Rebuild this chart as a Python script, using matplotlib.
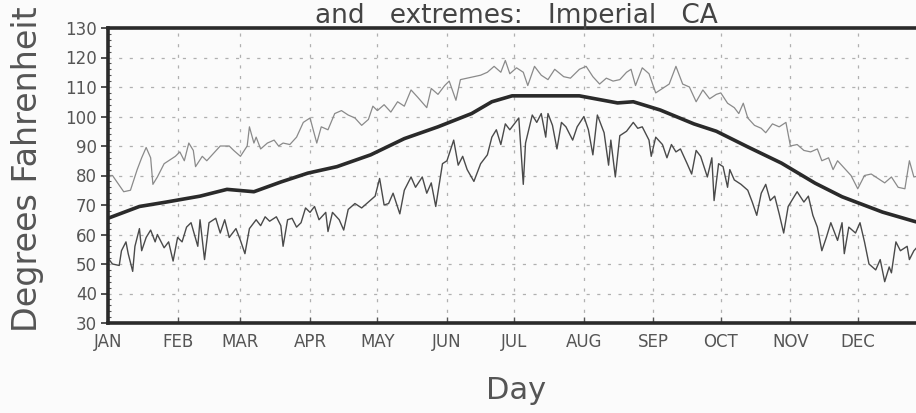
import matplotlib
matplotlib.use("Agg")
from matplotlib import pyplot as plt

# month starts (day of year) and labels
month_days = [1, 32, 60, 91, 121, 152, 182, 213, 244, 274, 305, 335]
month_names = ['JAN', 'FEB', 'MAR', 'APR', 'MAY', 'JUN',
               'JUL', 'AUG', 'SEP', 'OCT', 'NOV', 'DEC']

# record highs
hi_day = [1, 3, 8, 11, 14, 16, 18, 20, 21, 23, 26, 28, 31, 33, 35, 37, 39, 40,
          43, 45, 48, 51, 55, 57, 60, 63, 64, 66, 67, 69, 72, 75, 77, 79, 82,
          85, 88, 91, 94, 96, 99, 102, 105, 108, 111, 114, 117, 119, 121, 124,
          127, 130, 133, 136, 139, 143, 145, 148, 151, 153, 156, 158, 161, 164,
          167, 170, 173, 176, 178, 180, 183, 186, 188, 191, 194, 197, 200, 204,
          207, 211, 214, 217, 220, 223, 226, 229, 232, 234, 236, 239, 242, 245,
          248, 251, 254, 257, 260, 263, 266, 269, 272, 274, 277, 280, 282, 284,
          286, 289, 292, 294, 297, 300, 303, 305, 308, 311, 314, 317, 319, 322,
          324, 326, 329, 332, 335, 338, 341, 344, 347, 350, 353, 356, 358, 360,
          363, 365]
hi_temp = [80, 80, 74.5, 75, 82, 86, 89.5, 86, 77, 79.5, 84, 85, 86.5, 88, 85,
           91, 88.5, 83, 86.5, 85, 87.5, 90, 90, 88.5, 86.5, 90, 96.5, 91, 93,
           89, 91, 92, 90, 91, 90.5, 93, 98, 99.5, 91, 96.5, 95.5, 101, 102,
           100.5, 99.5, 97, 99, 103.5, 102, 104, 101.5, 105, 103.5, 109, 106.5,
           103, 109.5, 107.5, 110.5, 112, 105.5, 112.5, 113, 113.5, 114, 115,
           117, 115, 119, 114.5, 116.5, 115, 110.5, 117, 114, 112.5, 116,
           113.5, 113, 116, 117, 113.5, 111, 113, 112, 112.5, 115, 116, 110.5,
           116.5, 114.5, 108, 109.5, 111, 117, 111, 110, 105, 109, 106, 107.5,
           108, 104.5, 103, 101, 104.5, 99.5, 97, 96, 94.5, 97.5, 96.5, 98, 90,
           90.5, 88.5, 88, 89, 85, 86, 82, 85, 82.5, 80, 75.5, 80, 80.5, 79,
           77.5, 79.5, 76, 75.5, 85, 79.5, 80, 79]

# record lows
lo_day = [1, 3, 6, 7, 9, 10, 12, 13, 15, 16, 18, 20, 22, 23, 26, 28, 30, 32,
          34, 36, 38, 41, 42, 44, 46, 49, 51, 53, 55, 58, 60, 62, 64, 67, 69,
          71, 73, 76, 78, 79, 81, 83, 85, 87, 89, 91, 93, 95, 98, 99, 101, 104,
          106, 108, 111, 114, 117, 120, 122, 124, 126, 128, 131, 133, 136, 138,
          141, 143, 145, 147, 150, 152, 155, 157, 159, 161, 164, 167, 170, 172,
          174, 176, 178, 180, 182, 184, 186, 187, 190, 192, 194, 196, 197, 199,
          201, 203, 205, 208, 210, 213, 215, 217, 219, 222, 224, 225, 227, 229,
          232, 235, 237, 239, 242, 243, 245, 248, 250, 252, 254, 256, 259, 261,
          263, 265, 268, 270, 271, 273, 275, 277, 278, 280, 283, 286, 288, 290,
          292, 294, 296, 298, 300, 302, 304, 306, 308, 311, 313, 315, 317, 319,
          321, 323, 326, 328, 329, 331, 334, 336, 338, 340, 343, 345, 347, 349,
          350, 352, 354, 357, 358, 360, 363, 365]
lo_temp = [52, 50, 49.5, 54.5, 57.5, 53.5, 47.5, 56, 62, 54.5, 59, 61.5, 57.5,
           60, 55.5, 57.5, 51, 59, 57.5, 62.5, 64, 56, 65, 51.5, 64, 65.5,
           60.5, 65, 59, 62, 58, 53.5, 62, 65, 63, 66, 64.5, 66, 63, 56, 65,
           65.5, 62.5, 64, 69, 67.5, 69.5, 65, 67.5, 61, 67.5, 65, 61.5, 68.5,
           70.5, 69, 71, 73, 79, 70, 70.5, 74, 67, 75, 79.5, 76, 79.5, 74,
           77.5, 69.5, 84, 85, 92, 83.5, 86.5, 82, 78, 84, 87, 93, 95.5, 90.5,
           97.5, 95.5, 97.5, 99.5, 77, 91, 100.5, 98, 101, 93, 101, 97, 89, 98,
           96.5, 92, 96.5, 100, 95.5, 87, 100.5, 94.5, 83.5, 92, 79.5, 93.5,
           95, 98, 96, 96.5, 92, 86.5, 93, 90.5, 86, 90.5, 88, 89, 84, 80.5,
           88.5, 86.5, 79.5, 86, 71.5, 84, 83, 76, 82, 78.5, 77, 75, 71, 66.5,
           74, 77, 71.5, 73, 67, 60.5, 69.5, 72, 74.5, 71, 73, 66.5, 62.5,
           54.5, 59, 64, 58, 64, 53.5, 62.5, 60.5, 64, 57.5, 50, 48, 51.5, 44,
           49, 47, 57.5, 54.5, 56, 51.5, 54.5, 57, 55]

# normal daily temperature (thick curve)
norm_day = [1, 15, 27, 42, 54, 66, 78, 90, 103, 118, 133, 148, 163, 172, 181,
            211, 228, 235, 247, 262, 272, 286, 301, 316, 328, 346, 360, 365]
norm_temp = [65.5, 69.5, 71, 73, 75.3, 74.5, 77.8, 80.8, 83, 87, 92.5, 96.5,
             101, 105, 107, 107, 104.6, 105, 102.2, 97.5, 95, 89.7, 84.2, 77.4,
             72.8, 67.6, 64.5, 63.5]

fig = plt.figure(figsize=(9.16, 4.13), dpi=100, facecolor='#fbfbfb')
# right edge of the axes sits just past the image edge (chart is cropped)
ax = fig.add_axes([108 / 916, 90 / 413, 818 / 916, 295 / 413])
ax.set_facecolor('#fbfbfb')

ax.plot(hi_day, hi_temp, color='#8a8a8a', linewidth=0.9)
ax.plot(lo_day, lo_temp, color='#4a4a4a', linewidth=1.0)
ax.plot(norm_day, norm_temp, color='#2a2a2a', linewidth=2.6)

ax.set_xlim(1, 365.4)
ax.set_ylim(30, 130)
ax.set_yticks(range(30, 131, 10))
ax.set_yticks(range(30, 131, 2), minor=True)
ax.set_xticks(month_days)
ax.set_xticklabels(month_names)

ax.grid(True, color='#b0b0b0', linestyle=(0, (2.5, 6)), linewidth=0.9)

for side in ['top', 'bottom', 'left', 'right']:
    ax.spines[side].set_linewidth(2.6)
    ax.spines[side].set_color('#2a2a2a')

ax.tick_params(axis='y', which='major', direction='out', length=5, width=1.2,
               color='#333333', labelsize=12, labelcolor='#555555', pad=3)
ax.tick_params(axis='y', which='minor', direction='in', length=2, width=0.8,
               color='#555555')
ax.tick_params(axis='x', direction='in', length=4, width=1.0, color='#555555',
               labelsize=12, labelcolor='#555555', pad=7)

ax.set_xlabel('Day', fontsize=22, color='#555555')
ax.xaxis.set_label_coords(0.499, -0.18)
ax.set_ylabel('Degrees Fahrenheit', fontsize=24, color='#555555')
ax.yaxis.set_label_coords(-0.078, 0.52)

# title sits right at the top edge of the image
fig.text(0.564, 0.945, 'and   extremes:   Imperial   CA', fontsize=19,
         color='#444444', ha='center', va='baseline')

fig.savefig('out.png', dpi=100, facecolor=fig.get_facecolor())
